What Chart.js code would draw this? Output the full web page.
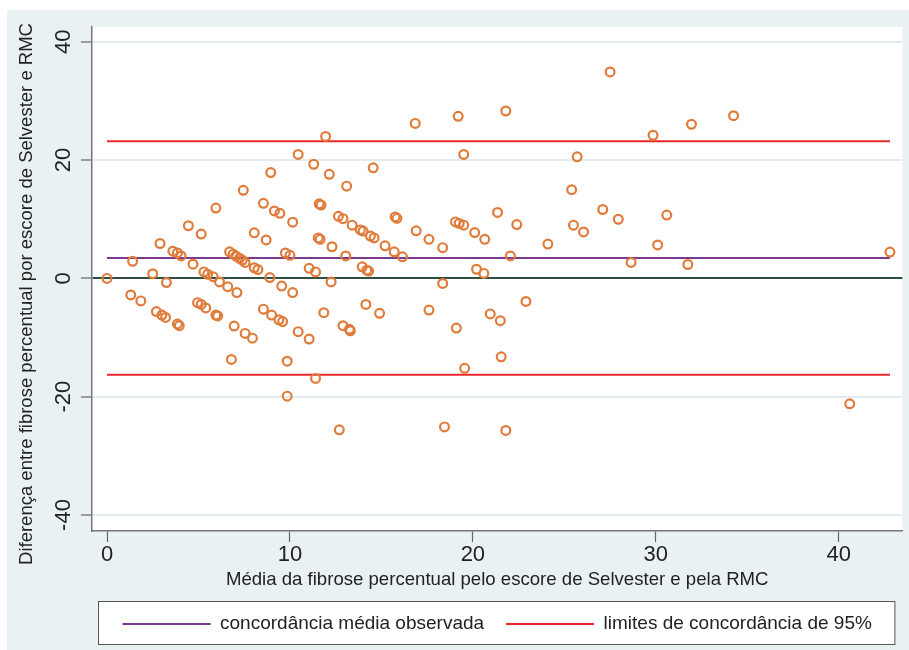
<!DOCTYPE html>
<html>
<head>
<meta charset="utf-8">
<script src="https://cdn.jsdelivr.net/npm/chart.js@4.4.1/dist/chart.umd.min.js"></script>
<style>
  html, body { margin: 0; padding: 0; background: #fff; }
  #wrap { width: 909px; height: 650px; }
</style>
</head>
<body>
<div id="wrap"><canvas id="myChart" width="909" height="650"></canvas></div>
<script>
// mean of the two methods (x) and their difference (y)
const meanX = [
  0, 1.4, 2.5, 3.25, 1.3, 1.85, 2.9, 3.6, 3.85, 4.05,
  4.45, 5.15, 4.7, 5.3, 5.5, 5.8, 6.15, 6.6, 7.1, 5.95,
  7.45, 8.95, 8.55, 9.15, 9.45, 8.05, 8.7, 6.7, 6.9, 7.05,
  7.25, 7.4, 7.55, 8.05, 8.25, 8.9, 9.55, 9.75, 10.0, 2.7,
  3.0, 3.2, 3.85, 3.95, 4.95, 5.15, 5.4, 5.95, 6.05, 6.95,
  7.55, 7.95, 6.8, 8.55, 9.0, 9.4, 9.6, 9.85, 9.85, 10.45,
  11.95, 11.3, 12.15, 13.1, 14.55, 16.85, 19.2, 19.5, 10.15, 11.6,
  11.7, 12.65, 12.9, 13.4, 13.85, 14.0, 14.4, 14.6, 15.2, 15.7,
  16.15, 15.75, 15.85, 16.9, 17.6, 18.35, 19.05, 19.25, 19.5, 11.55,
  11.65, 12.3, 13.05, 11.05, 11.4, 13.95, 14.2, 14.3, 12.25, 18.35,
  10.15, 10.45, 11.05, 11.85, 12.9, 13.25, 13.3, 14.15, 14.9, 17.6,
  19.1, 19.55, 11.4, 12.7, 18.45, 21.8, 27.5, 25.7, 25.4, 27.1,
  27.95, 25.5, 26.05, 21.35, 22.4, 20.1, 20.65, 24.1, 22.05, 20.2,
  20.6, 28.65, 22.9, 20.95, 21.5, 21.55, 21.8, 29.85, 31.95, 34.25,
  30.6, 30.1, 31.75, 42.8, 40.6
];
const diffY = [
  0, 2.9, 0.8, -0.7, -2.8, -3.8, 5.9, 4.6, 4.3, 3.8,
  8.9, 7.5, 2.4, 1.1, 0.7, 0.3, -0.6, -1.4, -2.4, 11.9,
  14.9, 17.9, 12.7, 11.4, 11.0, 7.7, 6.5, 4.5, 4.1, 3.75,
  3.4, 3.1, 2.7, 1.8, 1.5, 0.15, -1.3, 4.3, 3.9, -5.6,
  -6.2, -6.6, -7.7, -8.0, -4.1, -4.4, -5.0, -6.2, -6.35, -8.05,
  -9.3, -10.1, -13.7, -5.2, -6.2, -7.0, -7.3, -14.0, -19.9, 20.95,
  24.0, 19.3, 17.6, 15.6, 18.7, 26.2, 27.4, 20.95, 9.5, 12.6,
  12.4, 10.5, 10.1, 9.0, 8.2, 8.0, 7.15, 6.85, 5.5, 4.5,
  3.65, 10.4, 10.15, 8.05, 6.6, 5.2, 9.55, 9.3, 9.0, 6.85,
  6.6, 5.35, 3.8, 1.7, 1.1, 1.95, 1.4, 1.25, -0.6, -0.85,
  -2.4, -9.0, -10.25, -5.8, -8.0, -8.6, -8.85, -4.4, -5.9, -5.35,
  -8.4, -15.2, -16.9, -25.6, -25.1, 28.3, 34.9, 20.55, 15.0, 11.65,
  10.0, 9.0, 7.85, 11.15, 9.1, 7.75, 6.6, 5.8, 3.8, 1.55,
  0.85, 2.7, -3.9, -6.0, -7.15, -13.25, -25.7, 24.2, 26.05, 27.5,
  10.7, 5.65, 2.35, 4.45, -21.2
];
const meanDiff = 3.45;
const upperLimit = 23.2;
const lowerLimit = -16.3;
const xTicks = [0, 10, 20, 30, 40];
const yTicks = [-40, -20, 0, 20, 40];

const labelMean = "concordância média observada";
const labelLimits = "limites de concordância de 95%";
const xTitle = "Média da fibrose percentual pelo escore de Selvester e pela RMC";
const yTitle = "Diferença entre fibrose percentual por escore de Selvester e RMC";

const FONT = '"Liberation Sans", Arial, sans-serif';
const ORANGE = "#e07b39";
const PURPLE = "#7b3a8c";
const RED = "#e8262b";

const xMin = Math.min(...meanX);
const xMax = Math.max(...meanX);
const points = meanX.map((x, i) => ({ x: x, y: diffY[i] }));
const hline = (v) => [{ x: xMin, y: v }, { x: xMax, y: v }];

// light panel, white plot area, framed legend, rotated y labels
const panel = {
  id: "panel",
  beforeDraw(chart) {
    const { ctx, chartArea: a } = chart;
    ctx.save();
    ctx.fillStyle = "#ffffff";
    ctx.fillRect(0, 0, chart.width, chart.height);
    ctx.fillStyle = "#e9f1f3";
    ctx.fillRect(7, 10, chart.width - 7, chart.height - 10);
    ctx.fillStyle = "#ffffff";
    ctx.fillRect(a.left, a.top, a.right - a.left, a.bottom - a.top);

    const lg = chart.legend;
    const mid = Math.round(lg.top + lg.options.labels.padding + lg.options.labels.font.size / 2);
    const bx = a.left + 6.5;
    const bw = a.right - a.left - 14;
    ctx.fillRect(bx, mid - 22, bw, 43);
    ctx.strokeStyle = "#555";
    ctx.lineWidth = 1;
    ctx.strokeRect(bx, mid - 22.5, bw, 43);
    ctx.restore();
  },
  afterDraw(chart) {
    const { ctx, chartArea: a } = chart;
    const ys = chart.scales.y;
    ctx.save();
    ctx.fillStyle = "#222";
    ctx.textAlign = "center";
    ctx.textBaseline = "middle";
    ctx.font = "22px " + FONT;
    ys.ticks.forEach((t) => {
      ctx.save();
      ctx.translate(ys.right - 28, ys.getPixelForValue(t.value));
      ctx.rotate(-Math.PI / 2);
      ctx.fillText(String(t.value), 0, 0);
      ctx.restore();
    });
    // y axis title
    ctx.font = "18.5px " + FONT;
    ctx.translate(ys.left + 19, (a.top + a.bottom) / 2 + 15);
    ctx.rotate(-Math.PI / 2);
    ctx.fillText(yTitle, 0, 0);
    ctx.restore();
  },
};

new Chart(document.getElementById("myChart"), {
  type: "scatter",
  data: {
    datasets: [
      {
        label: "pontos",
        data: points,
        pointRadius: 4.4,
        borderWidth: 2.2,
        borderColor: ORANGE,
        backgroundColor: "rgba(0,0,0,0)",
        pointHoverRadius: 4.4,
      },
      {
        type: "line",
        label: labelMean,
        data: hline(meanDiff),
        borderColor: PURPLE,
        backgroundColor: PURPLE,
        borderWidth: 2,
        pointRadius: 0,
        fill: false,
      },
      {
        type: "line",
        label: labelLimits,
        data: hline(upperLimit),
        borderColor: RED,
        backgroundColor: RED,
        borderWidth: 2,
        pointRadius: 0,
        fill: false,
      },
      {
        type: "line",
        label: "lower",
        data: hline(lowerLimit),
        borderColor: RED,
        backgroundColor: RED,
        borderWidth: 2,
        pointRadius: 0,
        fill: false,
      },
    ],
  },
  options: {
    responsive: false,
    animation: false,
    devicePixelRatio: 1,
    layout: { padding: { left: 8, right: 3, top: 27, bottom: 6.5 } },
    plugins: {
      tooltip: { enabled: false },
      legend: {
        position: "bottom",
        fullSize: false,
        labels: {
          boxWidth: 88,
          boxHeight: 2,
          padding: 22,
          color: "#222",
          font: { family: FONT, size: 19 },
          generateLabels(chart) {
            const items = Chart.defaults.plugins.legend.labels.generateLabels(chart);
            items.forEach((it) => (it.lineWidth = 0));
            return items;
          },
          filter: (item) => item.text === labelMean || item.text === labelLimits,
        },
      },
    },
    scales: {
      x: {
        type: "linear",
        min: -0.82,
        max: 43.48,
        afterBuildTicks: (s) => { s.ticks = xTicks.map((v) => ({ value: v })); },
        afterFit: (s) => { s.height = 61.5; },
        border: { display: true, color: "#777", width: 1.5 },
        grid: {
          drawOnChartArea: false,
          drawTicks: true,
          tickLength: 11,
          tickColor: "#666",
          tickWidth: 1.2,
        },
        ticks: {
          color: "#222",
          padding: 0,
          maxRotation: 0,
          font: { family: FONT, size: 22 },
        },
        title: {
          display: true,
          text: xTitle,
          color: "#222",
          font: { family: FONT, size: 18.6 },
          padding: { top: 0, bottom: 1.3 },
        },
      },
      y: {
        type: "linear",
        min: -42.7,
        max: 42.5,
        afterBuildTicks: (s) => { s.ticks = yTicks.map((v) => ({ value: v })); },
        afterFit: (s) => { s.width = 84; },
        border: { display: true, color: "#777", width: 1.5 },
        grid: {
          color: (c) => (c.tick && c.tick.value === 0 ? "#2f4f43" : "#e1ecf0"),
          lineWidth: 2,
          tickLength: 11,
          tickColor: "#666",
          tickWidth: 1.2,
        },
        ticks: { display: false },
        title: { display: false },
      },
    },
  },
  plugins: [panel],
});
</script>
</body>
</html>
